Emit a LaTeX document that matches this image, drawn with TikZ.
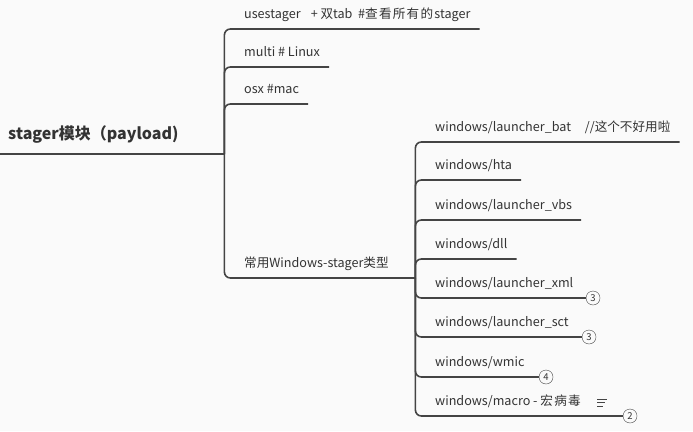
\documentclass[tikz,border=0pt]{standalone}
\usepackage{fontspec}
\setmainfont{Noto Sans CJK SC}
\usepackage{tikz}
\usetikzlibrary{positioning}
\usepackage{xcolor}
\definecolor{paper}{HTML}{FAFAFA}
\definecolor{txt}{HTML}{333333}
\definecolor{ink}{HTML}{444444}

\begin{document}
\begin{tikzpicture}[x=1pt,y=-1pt,
 every node/.style={font=\fontsize{12.6}{14}\selectfont,text=txt},
 root/.style={anchor=south west,inner xsep=8pt,inner ysep=14pt,text depth=0pt,align=left,font=\fontsize{16}{18}\selectfont\bfseries},
 topic/.style={anchor=south west,inner xsep=9pt,inner ysep=10pt,text depth=0pt},
 count/.style={circle,draw=ink,thin,fill=paper,inner sep=0pt,minimum size=14pt,font=\fontsize{9.5}{10}\selectfont},
 branch/.style={draw=ink,line width=1.6pt,rounded corners=6pt},
 note/.style={draw=ink,line width=0.8pt}
]
\useasboundingbox (0,0) rectangle (693,431);
\fill[paper] (0,0) rectangle (693,431);

\node[root,text width=208pt] (root) at (0,154) {stager模块（payload)};
\draw[branch] (root.south west) -- (root.south east);

\node[topic] (use) at (235,29) {usestager\hspace{0.8em}+ 双tab\hspace{0.45em}\#查\hspace{0.1em}看\hspace{0.1em}所\hspace{0.1em}有\hspace{0.1em}的\hspace{0.1em}stager\hspace{0.3em}};
\node[topic] (multi) at (235,67) {multi \# Linux};
\node[topic] (osx) at (235,104) {osx \#mac};
\node[topic,text width=162pt,align=left] (win) at (235,278) {常用Windows-stager类型};
\draw[branch] (root.south east) |- (use.south east); \draw[branch] (root.south east) |- (multi.south east);
\draw[branch] (root.south east) |- (osx.south east); \draw[branch] (root.south east) |- (win.south east);

\node[topic] (bat) at (426,142) {windows/launcher\_bat\hspace{1.1em}//这个不好用啦};
\node[topic] (hta) at (426,180) {windows/hta};
\node[topic] (vbs) at (426,220) {windows/launcher\_vbs};
\node[topic] (dll) at (426,259) {windows/dll};
\draw[branch] (win.south east) |- (bat.south east); \draw[branch] (win.south east) |- (hta.south east);
\draw[branch] (win.south east) |- (vbs.south east); \draw[branch] (win.south east) |- (dll.south east);

\node[topic] (xml) at (426,298) {windows/launcher\_xml};
\node[topic] (sct) at (426,337) {windows/launcher\_sct};
\node[topic] (wmic) at (426,377) {windows/wmic};
\node[topic] (macro) at (426,416) {windows/macro - 宏\hspace{0.1em}病\hspace{0.1em}毒};
\node[count] (xmln) at (593,298) {3};
\node[count] (sctn) at (589,337) {3};
\node[count] (wmicn) at (546,377) {4};
\node[count] (macron) at (630,416) {2};
\draw[branch] (win.south east) |- (xmln.west); \draw[branch] (win.south east) |- (sctn.west);
\draw[branch] (win.south east) |- (wmicn.west); \draw[branch] (win.south east) |- (macron.west);

\draw[note] (597,399) -- (607,399);
\draw[note] (597,402.5) -- (605,402.5);
\draw[note] (597,406) -- (603,406);
\end{tikzpicture}
\end{document}
